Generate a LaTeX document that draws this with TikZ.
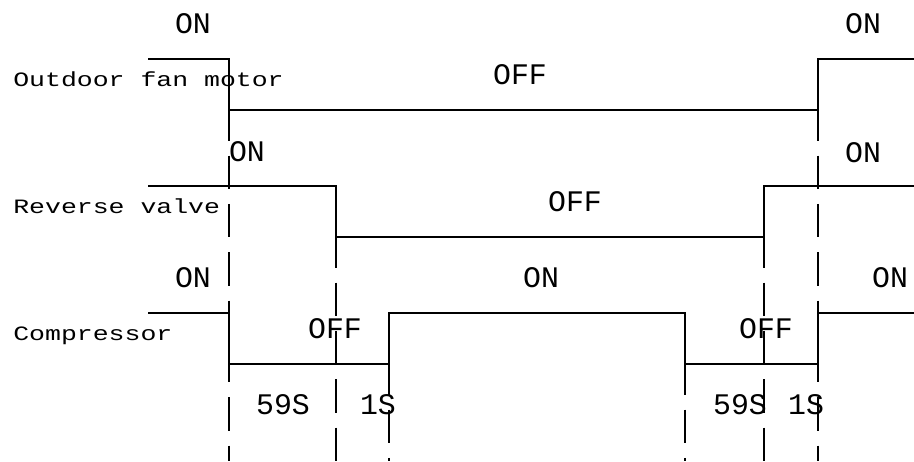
\documentclass[tikz,border=0pt]{standalone}
\usepackage{fontspec}
\usepackage{tikz}
\newfontfamily\cadfont{Liberation Mono}
\newfontfamily\cadwide[FakeStretch=1.3]{Liberation Mono}
\definecolor{ink}{RGB}{0, 0, 0}

\begin{document}
\begin{tikzpicture}[x=0.02cm, y=-0.02cm,
  wave/.style={ink, line width=0.7pt},
  guide/.style={ink, line width=0.6pt, dash pattern=on 19pt off 8.5pt},
  state/.style={inner sep=0pt, font=\cadfont\fontsize{17}{20}\selectfont},
  signame/.style={inner sep=0pt, anchor=base west, font=\cadwide\fontsize{11.6}{14}\selectfont}]
  \useasboundingbox (0, 0) rectangle (914, 461);

  % signal names
  \node[signame] (fan) at (13, 86) {Outdoor fan motor};
  \node[signame] (valve) at (13, 213) {Reverse valve};
  \node[signame] (comp) at (13, 340) {Compressor};

  % waveforms
  \draw[wave] (148, 59)
    \foreach \x/\y in {229/59, 229/110, 818/110, 818/59, 914/59} {
      -- (\x, \y)
  };

  \draw[wave] (148, 186)
    \foreach \x/\y in {336/186, 336/237, 764/237, 764/186, 914/186} {
      -- (\x, \y)
  };

  \draw[wave] (148, 313)
    \foreach \x/\y in {229/313, 229/364, 389/364, 389/313, 685/313,
                       685/364, 818/364, 818/313, 914/313} {
      -- (\x, \y)
  };

  % switching instants
  \foreach \x/\y in {229/59, 336/186, 389/313, 685/313, 764/186, 818/59} {
    \draw[guide] (\x, \y) -- (\x, 461);
  }

  % states
  \node[state] (fanon) at (193, 24) {ON};
  \node[state] (fanoff) at (520, 75) {OFF};
  \node[state] (fanon2) at (863, 24) {ON};

  \node[state] (valveon) at (247, 152) {ON};
  \node[state] (valveoff) at (575, 202) {OFF};
  \node[state] (valveon2) at (863, 153) {ON};

  \node[state] (compon) at (193, 278) {ON};
  \node[state] (compoff) at (335, 329) {OFF};
  \node[state] (compon2) at (541, 278) {ON};
  \node[state] (compoff2) at (766, 329) {OFF};
  \node[state] (compon3) at (890, 278) {ON};

  % delays
  \node[state] (delaya) at (283, 405) {59S};
  \node[state] (delayb) at (378, 405) {1S};
  \node[state] (delayc) at (740, 405) {59S};
  \node[state] (delayd) at (806, 405) {1S};

\end{tikzpicture}
\end{document}
